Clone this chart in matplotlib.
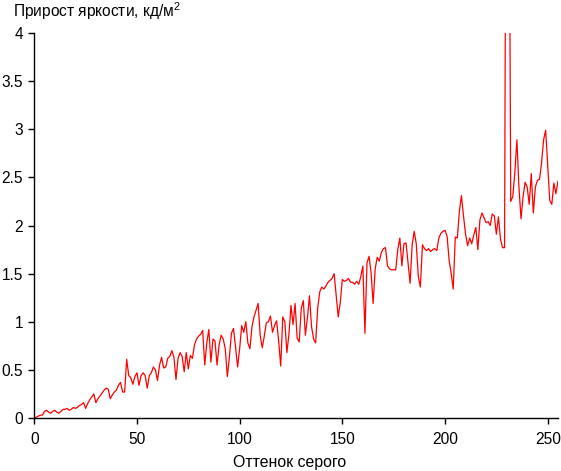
import matplotlib
matplotlib.use("Agg")
import matplotlib.pyplot as plt


# gray level 0..255 and brightness increment (cd/m2)
GRAY_LEVELS = list(range(256))

BRIGHTNESS_STEP = [
    0.00, 0.01, 0.02, 0.03, 0.03, 0.07, 0.08, 0.06, 0.05, 0.07,
    0.08, 0.06, 0.05, 0.07, 0.09, 0.09, 0.10, 0.08, 0.09, 0.11,
    0.10, 0.11, 0.13, 0.14, 0.16, 0.10, 0.15, 0.19, 0.22, 0.25,
    0.16, 0.20, 0.23, 0.26, 0.29, 0.31, 0.30, 0.20, 0.24, 0.27,
    0.29, 0.34, 0.37, 0.27, 0.27, 0.61, 0.44, 0.42, 0.35, 0.43,
    0.47, 0.34, 0.44, 0.47, 0.44, 0.31, 0.44, 0.47, 0.53, 0.50,
    0.39, 0.55, 0.63, 0.52, 0.53, 0.62, 0.64, 0.70, 0.63, 0.40,
    0.62, 0.68, 0.64, 0.48, 0.68, 0.51, 0.65, 0.62, 0.76, 0.82,
    0.85, 0.87, 0.91, 0.55, 0.78, 0.92, 0.58, 0.82, 0.80, 0.55,
    0.76, 0.86, 0.82, 0.72, 0.43, 0.63, 0.88, 0.93, 0.74, 0.53,
    0.72, 0.96, 0.89, 1.00, 0.78, 0.72, 0.95, 1.05, 1.12, 1.19,
    0.86, 0.73, 0.85, 0.99, 1.00, 1.06, 0.89, 0.96, 1.01, 0.80,
    0.54, 1.05, 1.00, 0.68, 0.87, 1.17, 0.97, 1.19, 0.83, 0.79,
    1.14, 1.22, 0.86, 1.04, 1.27, 0.95, 0.82, 0.78, 1.14, 1.31,
    1.36, 1.34, 1.37, 1.41, 1.43, 1.45, 1.50, 1.28, 1.05, 1.20,
    1.44, 1.42, 1.43, 1.45, 1.41, 1.41, 1.39, 1.42, 1.39, 1.47,
    1.58, 0.88, 1.61, 1.68, 1.51, 1.19, 1.55, 1.67, 1.63, 1.72,
    1.76, 1.77, 1.58, 1.55, 1.54, 1.54, 1.54, 1.75, 1.87, 1.58,
    1.81, 1.82, 1.61, 1.40, 1.80, 1.94, 1.81, 1.47, 1.36, 1.80,
    1.76, 1.74, 1.76, 1.73, 1.75, 1.76, 1.74, 1.87, 1.92, 1.94,
    1.95, 1.89, 1.64, 1.50, 1.34, 1.88, 1.87, 2.15, 2.31, 2.10,
    1.91, 1.79, 1.87, 1.81, 1.90, 1.98, 1.75, 2.06, 2.13, 2.08,
    2.03, 2.04, 2.00, 2.12, 2.10, 1.91, 2.09, 1.86, 1.77, 1.77,
    8.50, 7.00, 2.25, 2.30, 2.55, 2.89, 2.40, 2.07, 2.30, 2.45,
    2.40, 2.22, 2.54, 2.13, 2.40, 2.47, 2.48, 2.65, 2.89, 2.99,
    2.62, 2.26, 2.22, 2.44, 2.33, 2.46,
]

X_TICKS = [0, 50, 100, 150, 200, 250]
Y_TICKS = [0, 0.5, 1, 1.5, 2, 2.5, 3, 3.5, 4]
Y_TICK_LABELS = ["0", "0.5", "1", "1.5", "2", "2.5", "3", "3.5", "4"]

TITLE = "Прирост яркости, кд/м$^2$"
X_LABEL = "Оттенок серого"

FONT_SIZE = 11.2


def main():
    plt.rcParams["font.family"] = ["Liberation Sans", "DejaVu Sans"]
    plt.rcParams["mathtext.fontset"] = "custom"
    plt.rcParams["mathtext.rm"] = "Liberation Sans"
    plt.rcParams["mathtext.it"] = "Liberation Sans"
    plt.rcParams["font.size"] = FONT_SIZE

    fig = plt.figure(figsize=(5.61, 4.71), dpi=100)
    ax = fig.add_axes([0.0611, 0.1125, 0.9335, 0.8174])

    ax.plot(GRAY_LEVELS, BRIGHTNESS_STEP, color="red", linewidth=0.9)

    ax.set_xlim(0, 255)
    ax.set_ylim(0, 4)
    ax.set_xticks(X_TICKS)
    ax.set_yticks(Y_TICKS)
    ax.set_yticklabels(Y_TICK_LABELS)

    for side in ("top", "right"):
        ax.spines[side].set_visible(False)
    for side in ("left", "bottom"):
        ax.spines[side].set_linewidth(1.0)
        ax.spines[side].set_color("black")

    ax.tick_params(direction="out", length=4, width=1.0, colors="black",
                   labelsize=FONT_SIZE)
    ax.tick_params(axis="x", pad=6)
    ax.tick_params(axis="y", pad=4)

    ax.set_xlabel(X_LABEL, fontsize=11.4, labelpad=6)
    ax.xaxis.label.set_x(0.488)

    fig.text(0.0226, 1 - 17.3 / 471, TITLE, fontsize=FONT_SIZE,
             ha="left", va="baseline")

    fig.savefig("out.png", dpi=100)
    plt.close(fig)


if __name__ == "__main__":
    main()
